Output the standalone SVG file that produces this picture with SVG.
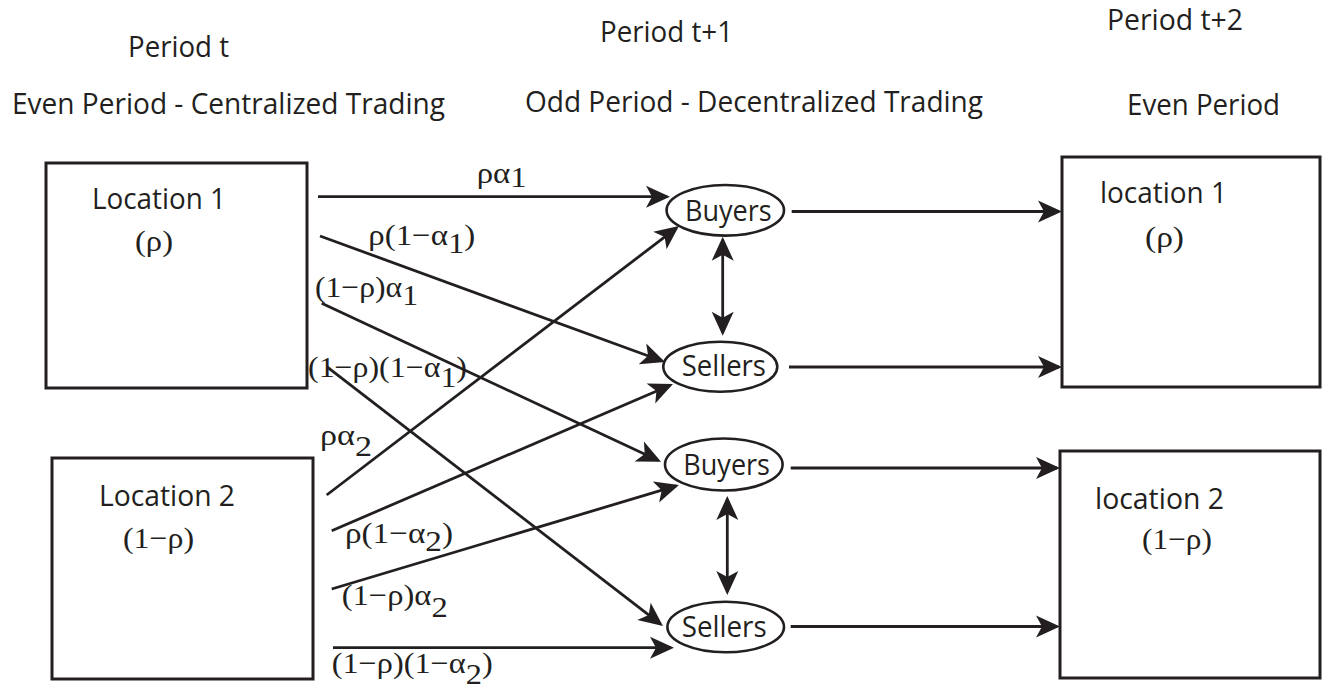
<svg xmlns="http://www.w3.org/2000/svg" width="1322" height="694" viewBox="0 0 1322 694">
<style>
.sans{font-family:"Open Sans","Liberation Sans",sans-serif;font-size:29.5px;fill:#231f20}
.math{font-family:"Liberation Serif","DejaVu Serif",serif;font-size:30px;fill:#231f20}
.box{fill:none;stroke:#231f20;stroke-width:3}
.ell{fill:#fff;stroke:#231f20;stroke-width:2.6}
.con{fill:none;stroke:#231f20;stroke-width:2.8}
</style>
<defs>
<marker id="ah" viewBox="-22 -12 26 24" refX="0" refY="0" markerWidth="26" markerHeight="24" markerUnits="userSpaceOnUse" orient="auto-start-reverse">
<path d="M3,0 L-21,-11 L-15,0 L-21,11 Z" fill="#231f20"/>
</marker>
</defs>
<rect width="1322" height="694" fill="#fff"/>
<g id="headers">
<text class="sans" x="128" y="57" textLength="101" lengthAdjust="spacingAndGlyphs">Period t</text>
<text class="sans" x="12" y="114" textLength="433" lengthAdjust="spacingAndGlyphs">Even Period - Centralized Trading</text>
<text class="sans" x="600" y="42" textLength="133" lengthAdjust="spacingAndGlyphs">Period t+1</text>
<text class="sans" x="525" y="112" textLength="458" lengthAdjust="spacingAndGlyphs">Odd Period - Decentralized Trading</text>
<text class="sans" x="1107" y="30" textLength="136" lengthAdjust="spacingAndGlyphs">Period t+2</text>
<text class="sans" x="1127" y="115" textLength="153" lengthAdjust="spacingAndGlyphs">Even Period</text>
</g>
<g id="loc1">
<rect class="box" x="46" y="163" width="261" height="225"/>
<text class="sans" x="92" y="209" textLength="134" lengthAdjust="spacingAndGlyphs">Location 1</text>
<text class="math" x="135" y="251" textLength="38" lengthAdjust="spacingAndGlyphs">(ρ)</text>
</g>
<g id="loc2">
<rect class="box" x="52" y="458" width="261" height="221"/>
<text class="sans" x="99" y="506" textLength="136" lengthAdjust="spacingAndGlyphs">Location 2</text>
<text class="math" x="123" y="548" textLength="71" lengthAdjust="spacingAndGlyphs">(1−ρ)</text>
</g>
<g id="loc1next">
<rect class="box" x="1062" y="157" width="258" height="230"/>
<text class="sans" x="1100" y="203" textLength="127" lengthAdjust="spacingAndGlyphs">location 1</text>
<text class="math" x="1145" y="247" textLength="39" lengthAdjust="spacingAndGlyphs">(ρ)</text>
</g>
<g id="loc2next">
<rect class="box" x="1060" y="451" width="260" height="227"/>
<text class="sans" x="1095" y="509" textLength="129" lengthAdjust="spacingAndGlyphs">location 2</text>
<text class="math" x="1142" y="549" textLength="70" lengthAdjust="spacingAndGlyphs">(1−ρ)</text>
</g>
<g id="connectors">
<line class="con" x1="318" y1="196.7" x2="667" y2="196.7" marker-end="url(#ah)"/>
<line class="con" x1="320" y1="236" x2="662.2" y2="361" marker-end="url(#ah)"/>
<line class="con" x1="321.7" y1="303.3" x2="658.3" y2="460.4" marker-end="url(#ah)"/>
<line class="con" x1="326.7" y1="366.7" x2="660.6" y2="624.2" marker-end="url(#ah)"/>
<line class="con" x1="326.7" y1="495" x2="676.6" y2="227.8" marker-end="url(#ah)"/>
<line class="con" x1="331.7" y1="530.7" x2="670.2" y2="385.2" marker-end="url(#ah)"/>
<line class="con" x1="331.7" y1="589" x2="676.1" y2="485.9" marker-end="url(#ah)"/>
<line class="con" x1="333" y1="647.7" x2="671" y2="647.7" marker-end="url(#ah)"/>
<line class="con" x1="791.7" y1="211.5" x2="1059" y2="211.5" marker-end="url(#ah)"/>
<line class="con" x1="789" y1="367" x2="1059" y2="367" marker-end="url(#ah)"/>
<line class="con" x1="790.7" y1="468" x2="1057" y2="468" marker-end="url(#ah)"/>
<line class="con" x1="790.7" y1="626.5" x2="1057" y2="626.5" marker-end="url(#ah)"/>
<line class="con" x1="722.7" y1="239.7" x2="722.7" y2="332.7" marker-start="url(#ah)" marker-end="url(#ah)"/>
<line class="con" x1="727.3" y1="499" x2="727.3" y2="592" marker-start="url(#ah)" marker-end="url(#ah)"/>
</g>
<g id="buyers1">
<ellipse class="ell" cx="725.3" cy="210.3" rx="58.7" ry="25.3"/>
<text class="sans" x="685" y="220.7" textLength="86.7" lengthAdjust="spacingAndGlyphs">Buyers</text>
</g>
<g id="sellers1">
<ellipse class="ell" cx="720.3" cy="366.7" rx="57" ry="25"/>
<text class="sans" x="681.7" y="376" textLength="84.3" lengthAdjust="spacingAndGlyphs">Sellers</text>
</g>
<g id="buyers2">
<ellipse class="ell" cx="723.8" cy="464.5" rx="58.8" ry="26"/>
<text class="sans" x="683.3" y="475" textLength="86.7" lengthAdjust="spacingAndGlyphs">Buyers</text>
</g>
<g id="sellers2">
<ellipse class="ell" cx="725.7" cy="627" rx="58.3" ry="25.3"/>
<text class="sans" x="681.7" y="637" textLength="85" lengthAdjust="spacingAndGlyphs">Sellers</text>
</g>
<g id="labels">
<text class="math" x="476.7" y="183.3" textLength="50" lengthAdjust="spacingAndGlyphs">ρα<tspan dy="4">1</tspan></text>
<text class="math" x="368.3" y="245" textLength="107" lengthAdjust="spacingAndGlyphs">ρ(1−α<tspan dy="8">1</tspan><tspan dy="-8">)</tspan></text>
<text class="math" x="315" y="296.7" textLength="103" lengthAdjust="spacingAndGlyphs">(1−ρ)α<tspan dy="8">1</tspan></text>
<text class="math" x="308" y="377" textLength="159" lengthAdjust="spacingAndGlyphs">(1−ρ)(1−α<tspan dy="10">1</tspan><tspan dy="-10">)</tspan></text>
<text class="math" x="320" y="445" textLength="52" lengthAdjust="spacingAndGlyphs">ρα<tspan dy="11">2</tspan></text>
<text class="math" x="345" y="543.3" textLength="108" lengthAdjust="spacingAndGlyphs">ρ(1−α<tspan dy="8">2</tspan><tspan dy="-8">)</tspan></text>
<text class="math" x="341.7" y="605" textLength="106" lengthAdjust="spacingAndGlyphs">(1−ρ)α<tspan dy="12">2</tspan></text>
<text class="math" x="331.7" y="673.3" textLength="161" lengthAdjust="spacingAndGlyphs">(1−ρ)(1−α<tspan dy="11">2</tspan><tspan dy="-11">)</tspan></text>
</g>
</svg>
